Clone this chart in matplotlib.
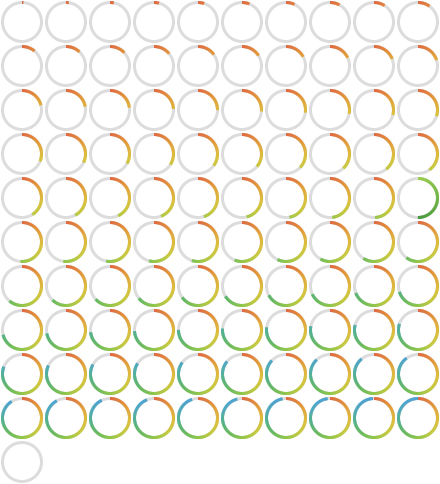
"""Grid of progress rings, 0-100 %, with a conic colour gradient."""

import matplotlib

matplotlib.use("Agg")

import matplotlib.pyplot as plt
import numpy as np
from matplotlib.collections import PatchCollection
from matplotlib.colors import LinearSegmentedColormap
from matplotlib.patches import Wedge

# percentage filled, one per ring, read row by row
VALUES = [
    1, 2, 3, 4, 5, 6, 7, 8, 9, 10,
    11, 12, 13, 14, 15, 16, 17, 18, 19, 20,
    21, 22, 23, 24, 25, 26, 27, 28, 29, 30,
    31, 32, 33, 34, 35, 36, 37, 38, 39, 40,
    41, 42, 43, 44, 45, 46, 47, 48, 49, 50,
    51, 52, 53, 54, 55, 56, 57, 58, 59, 60,
    61, 62, 63, 64, 65, 66, 67, 68, 69, 70,
    71, 72, 73, 74, 75, 76, 77, 78, 79, 80,
    81, 82, 83, 84, 85, 86, 87, 88, 89, 90,
    91, 92, 93, 94, 95, 96, 97, 98, 99, 100,
    0,
]
HIGHLIGHT = [49]  # ring drawn with the green scheme

# conic gradient, clockwise from 12 o'clock
STOPS = [0.0, 0.08, 0.18, 0.28, 0.38, 0.50, 0.62, 0.72, 0.82, 0.90, 1.0]
STOP_COLORS = ["#e0501f", "#e4701c", "#e49c1a", "#dcbc1c", "#c2c71f",
               "#80c22a", "#4eb446", "#36aa78", "#33a0b4", "#3199cc", "#3196d0"]
GREEN_STOPS = [0.0, 0.5, 1.0]
GREEN_COLORS = ["#8ecd2f", "#5aae28", "#2a8a1d"]

TRACK = "#dcdcdc"
NCOLS = 10
CELL = 44
R_OUT = 21.0
WIDTH = 3.0

cmap = LinearSegmentedColormap.from_list("ring", list(zip(STOPS, STOP_COLORS)))
gmap = LinearSegmentedColormap.from_list("green", list(zip(GREEN_STOPS, GREEN_COLORS)))

nrows = int(np.ceil(len(VALUES) / NCOLS))
fig = plt.figure(figsize=(4.4, 4.84), dpi=100)
ax = fig.add_axes([0, 0, 1, 1])
ax.set_xlim(0, NCOLS * CELL)
ax.set_ylim(nrows * CELL, 0)
ax.set_aspect("equal")
ax.axis("off")

patches, colors = [], []
step = 1.0
for i, v in enumerate(VALUES):
    cx = (i % NCOLS) * CELL + CELL / 2
    cy = (i // NCOLS) * CELL + CELL / 2
    # y axis is inverted, so counter-clockwise in data = clockwise on screen
    patches.append(Wedge((cx, cy), R_OUT, 0, 360, width=WIDTH))
    colors.append(TRACK)
    sweep = 360.0 * v / 100
    a = 0.0
    while a < sweep:
        b = min(a + step, sweep)
        patches.append(Wedge((cx, cy), R_OUT, -90 + a, -90 + b + 0.3, width=WIDTH))
        if i in HIGHLIGHT:
            colors.append(gmap((a + b) / 2 / max(sweep, 1)))
        else:
            colors.append(cmap((a + b) / 2 / 360))
        a = b

ax.add_collection(PatchCollection(patches, facecolors=colors,
                                  edgecolors="none", linewidths=0))

fig.savefig("out.png", dpi=100)
